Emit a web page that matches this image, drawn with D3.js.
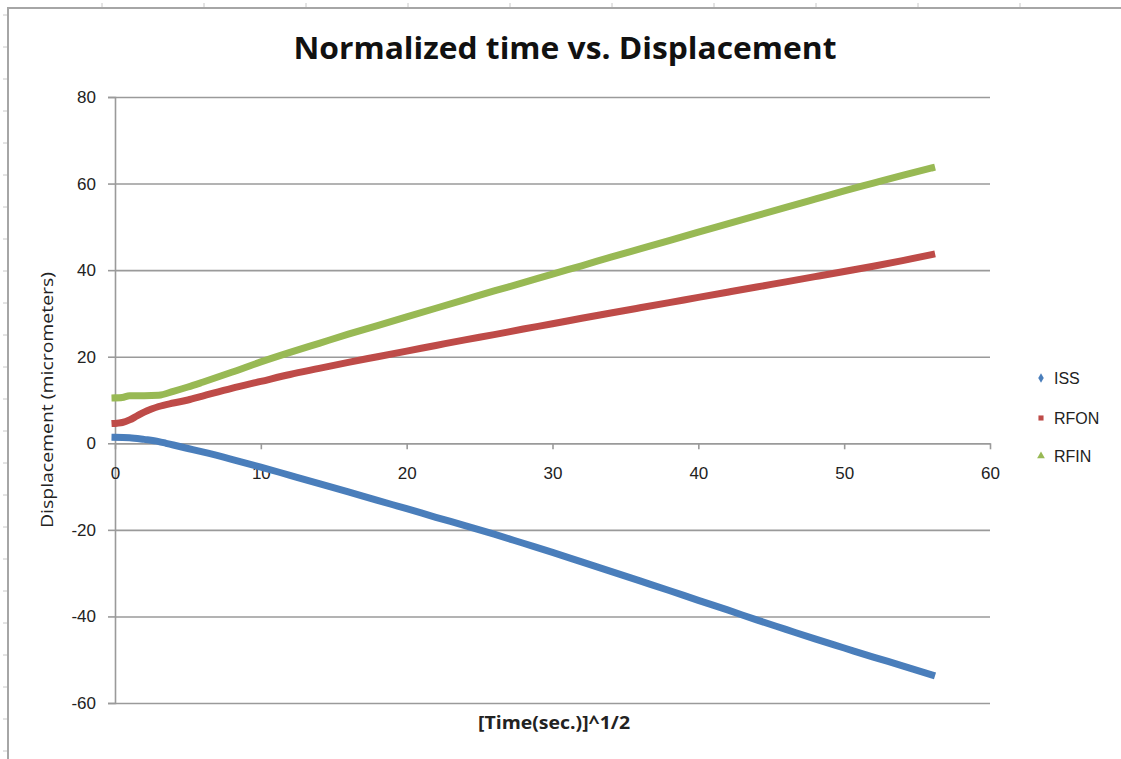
<!DOCTYPE html>
<html>
<head>
<meta charset="utf-8">
<script src="https://cdn.jsdelivr.net/npm/d3@7"></script>
<style>
  body { margin: 0; background: #fff; }
  svg { display: block; }
  .tick text { font-family: "Liberation Sans", Arial, sans-serif; font-size: 17px; fill: #222; }
</style>
</head>
<body>
<div id="chart"></div>
<script>
(function () {
  'use strict';

  // data
  var seriesNames = ['ISS', 'RFON', 'RFIN'];
  var seriesColors = ['#4a7ebb', '#be4b48', '#98b954'];

  var issX = [0, 1, 2, 3, 3.5, 4, 5, 6, 8, 10, 12, 14, 16, 18, 20, 22, 24, 26, 28, 30, 32, 34, 36, 38, 40, 42, 44, 46, 48, 50, 52, 54, 56];
  var issY = [1.4, 1.3, 0.9, 0.4, 0, -0.4, -1.2, -2.0, -3.7, -5.5, -7.4, -9.3, -11.2, -13.2, -15.1, -17.1, -19.0, -21.0, -23.1, -25.2, -27.4, -29.6, -31.8, -34.0, -36.3, -38.5, -40.8, -43.0, -45.2, -47.3, -49.4, -51.4, -53.5];

  var rfonX = [0, 0.5, 1, 1.5, 2, 2.5, 3, 4, 5, 6, 8, 10, 12, 14, 16, 18, 20, 22, 24, 26, 28, 30, 32, 34, 36, 38, 40, 42, 44, 46, 48, 50, 52, 54, 56];
  var rfonY = [4.6, 4.8, 5.4, 6.3, 7.2, 7.9, 8.5, 9.3, 10.0, 10.9, 12.7, 14.3, 15.9, 17.3, 18.7, 20.0, 21.3, 22.6, 23.9, 25.1, 26.4, 27.6, 28.9, 30.1, 31.3, 32.5, 33.7, 34.9, 36.1, 37.3, 38.5, 39.7, 40.9, 42.2, 43.6];

  var rfinX = [0, 0.5, 1, 2, 3, 4, 5, 6, 8, 10, 12, 14, 16, 18, 20, 22, 24, 26, 28, 30, 32, 34, 36, 38, 40, 42, 44, 46, 48, 50, 52, 54, 56];
  var rfinY = [10.5, 10.6, 11.0, 11.0, 11.1, 12.0, 13.0, 14.1, 16.4, 18.8, 21.0, 23.1, 25.2, 27.2, 29.2, 31.2, 33.2, 35.2, 37.1, 39.1, 41.0, 43.0, 44.9, 46.8, 48.8, 50.7, 52.6, 54.5, 56.4, 58.3, 60.1, 61.9, 63.6];

  var xTicks = [0, 10, 20, 30, 40, 50, 60];
  var yTicks = [-60, -40, -20, 0, 20, 40, 60, 80];

  var W = 1121, H = 759;
  var left = 115, right = 990, top = 97, bottom = 703;

  var svg = d3.select('#chart').append('svg')
    .attr('width', W)
    .attr('height', H);

  // sheet frame + ruler ticks
  svg.append('rect')
    .attr('x', 8).attr('y', 8)
    .attr('width', W).attr('height', H)
    .attr('fill', 'none')
    .attr('stroke', '#a6a6a6')
    .attr('stroke-width', 2);

  svg.selectAll('.rx').data(d3.range(102, W, 102)).enter()
    .append('line').attr('class', 'rx')
    .attr('x1', function (d) { return d; }).attr('x2', function (d) { return d; })
    .attr('y1', 3).attr('y2', 7)
    .attr('stroke', '#c8c8c8');

  svg.selectAll('.ry').data(d3.range(15, H, 32)).enter()
    .append('line').attr('class', 'ry')
    .attr('y1', function (d) { return d; }).attr('y2', function (d) { return d; })
    .attr('x1', 3).attr('x2', 7)
    .attr('stroke', '#c8c8c8');

  var x = d3.scaleLinear().domain([0, 60]).range([left, right]);
  var y = d3.scaleLinear().domain([-60, 80]).range([bottom, top]);
  var plain = function (d) { return String(d); };

  // gridlines
  svg.append('g')
    .attr('transform', 'translate(' + left + ',0)')
    .call(d3.axisLeft(y).tickValues(yTicks).tickSize(-(right - left)).tickFormat(''))
    .call(function (g) {
      g.select('.domain').remove();
      g.selectAll('.tick line').attr('stroke', '#9a9a9a').attr('stroke-width', 1.6);
    });

  // y axis
  svg.append('g')
    .attr('transform', 'translate(' + left + ',0)')
    .call(d3.axisLeft(y).tickValues(yTicks).tickFormat(plain).tickSize(7).tickPadding(12))
    .call(function (g) {
      g.select('.domain').attr('stroke', '#9a9a9a').attr('stroke-width', 1.6);
      g.selectAll('.tick line').attr('stroke', '#9a9a9a').attr('stroke-width', 1.6);
    });

  // x axis at zero
  svg.append('g')
    .attr('transform', 'translate(0,' + y(0) + ')')
    .call(d3.axisBottom(x).tickValues(xTicks).tickFormat(plain).tickSize(6).tickPadding(18).tickSizeOuter(0))
    .call(function (g) {
      g.select('.domain').attr('stroke', '#9a9a9a').attr('stroke-width', 1.6);
      g.selectAll('.tick line').attr('stroke', '#9a9a9a').attr('stroke-width', 1.6);
    });

  var series = [
    {name: seriesNames[0], xs: issX, ys: issY},
    {name: seriesNames[1], xs: rfonX, ys: rfonY},
    {name: seriesNames[2], xs: rfinX, ys: rfinY}
  ];

  var line = d3.line()
    .x(function (d) { return x(d[0]); })
    .y(function (d) { return y(d[1]); })
    .curve(d3.curveMonotoneX);

  series.forEach(function (s, i) {
    var pts = s.xs.map(function (v, k) { return [v, s.ys[k]]; });
    svg.append('path')
      .datum(pts)
      .attr('d', line)
      .attr('fill', 'none')
      .attr('stroke', seriesColors[i])
      .attr('stroke-width', 7)
      .attr('stroke-linecap', 'square');
  });

  // title
  svg.append('text')
    .attr('x', 565).attr('y', 59)
    .attr('text-anchor', 'middle')
    .attr('textLength', 543)
    .attr('lengthAdjust', 'spacingAndGlyphs')
    .style('font-family', '"Open Sans", "Liberation Sans", sans-serif')
    .style('font-weight', 'bold')
    .style('font-size', '31px')
    .style('fill', '#111')
    .text('Normalized time vs. Displacement');

  // axis titles
  svg.append('text')
    .attr('x', 554).attr('y', 729)
    .attr('text-anchor', 'middle')
    .attr('textLength', 152)
    .attr('lengthAdjust', 'spacingAndGlyphs')
    .style('font-family', '"Open Sans", "Liberation Sans", sans-serif')
    .style('font-weight', 'bold')
    .style('font-size', '17px')
    .style('fill', '#222')
    .text('[Time(sec.)]^1/2');

  svg.append('text')
    .attr('transform', 'translate(53,400) rotate(-90)')
    .attr('text-anchor', 'middle')
    .attr('textLength', 256)
    .attr('lengthAdjust', 'spacingAndGlyphs')
    .style('font-family', '"Open Sans", "Liberation Sans", sans-serif')
    .style('font-size', '17px')
    .style('fill', '#222')
    .text('Displacement (micrometers)');

  // legend
  var legY = [378, 418, 456];
  var shapes = [d3.symbolDiamond, d3.symbolSquare, d3.symbolTriangle];
  var leg = svg.append('g');
  series.forEach(function (s, i) {
    leg.append('path')
      .attr('transform', 'translate(1041,' + legY[i] + ')')
      .attr('d', d3.symbol().type(shapes[i]).size(26)())
      .attr('fill', seriesColors[i]);
    leg.append('text')
      .attr('x', 1054).attr('y', legY[i] + 6)
      .style('font-family', '"Liberation Sans", Arial, sans-serif')
      .style('font-size', '16px')
      .style('fill', '#222')
      .text(s.name);
  });
}());
</script>
</body>
</html>
